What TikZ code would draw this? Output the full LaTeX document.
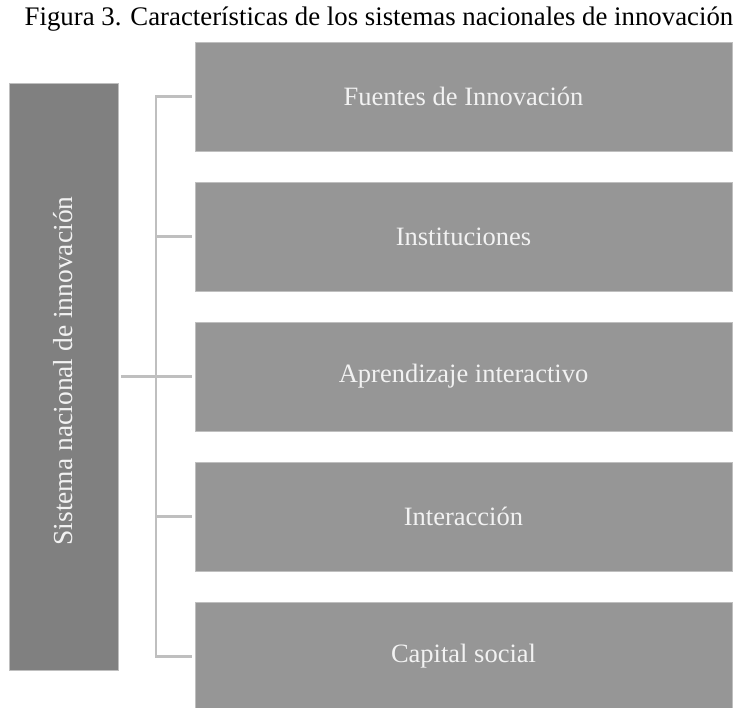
\documentclass[tikz,border=0pt]{standalone}
\usepackage{fontspec}
\setmainfont{Liberation Serif}
\definecolor{boxR}{RGB}{150,150,150}
\definecolor{boxL}{RGB}{128,128,128}
\definecolor{lineC}{RGB}{191,191,191}
\definecolor{txtC}{RGB}{242,242,242}
\begin{document}
\begin{tikzpicture}[x=1pt,y=-1pt,
  rbox/.style={fill=boxR,draw=lineC,line width=0.8pt,minimum width=537pt,minimum height=109pt,inner sep=0pt,
    text=txtC,font=\fontsize{26.5}{30}\selectfont},
  lbox/.style={fill=boxL,draw=lineC,line width=0.8pt,minimum width=109pt,minimum height=587pt,inner sep=0pt},
  conn/.style={draw=lineC,line width=2.2pt}]
\useasboundingbox (0,0) rectangle (736,707);
\begin{scope}
\clip (0,0) rectangle (736,707);
\node[font=\fontsize{26.8}{30}\selectfont,anchor=center,inner sep=0pt] (title) at (379,19) {Figura 3. Características de los sistemas nacionales de innovación};
\node[lbox] (L) at (64,376.5) {};
\node[rotate=90,text=txtC,font=\fontsize{27.5}{31}\selectfont] (Lt) at (63,371) {Sistema nacional de innovación};
\node[rbox] (b1) at (463.5,96.5) {Fuentes de Innovación};
\node[rbox] (b2) at (463.5,236.5) {Instituciones};
\node[rbox] (b3) at (463.5,376.5) {Aprendizaje interactivo};
\node[rbox] (b4) at (463.5,516.5) {Interacción};
\node[rbox] (b5) at (463.5,656.5) {Capital social};
\draw[conn] (b1.west) ++(-3,0) -| (156,656.5) -- ([xshift=-3pt]b5.west);
\draw[conn] ([xshift=-3pt]b2.west) -- (156,236.5);
\draw[conn] ([xshift=-3pt]b4.west) -- (156,516.5);
\draw[conn] ([xshift=2pt]L.east) -- ([xshift=-3pt]b3.west);
\end{scope}
\end{tikzpicture}
\end{document}
